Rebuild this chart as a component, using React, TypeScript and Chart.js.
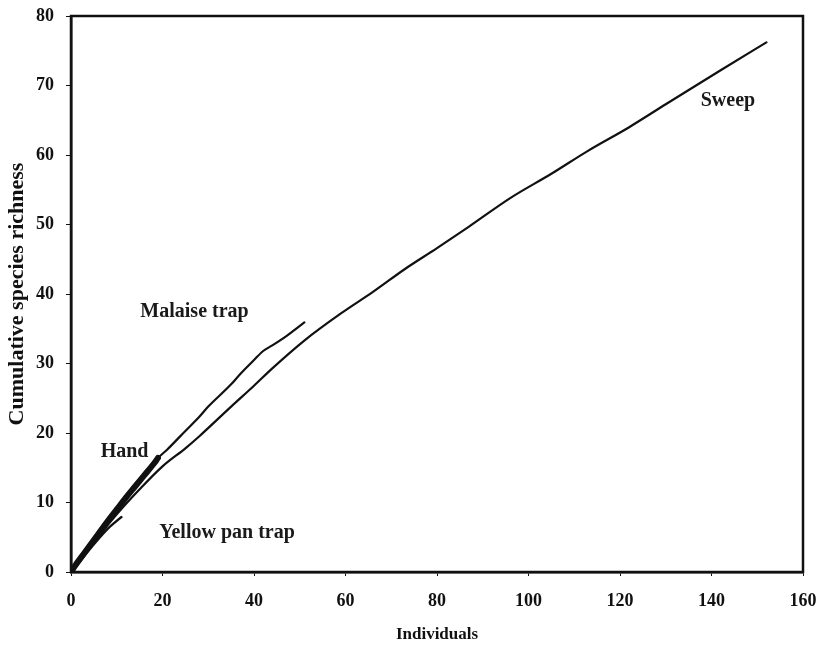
import React, { useEffect, useRef } from "react";
import { Chart, registerables } from "chart.js";

Chart.register(...registerables);

const sweepX = [0, 2, 5, 10, 15, 20, 25, 28, 35, 40, 44, 51, 59, 66, 73, 80, 87, 96, 105, 113, 122, 130, 142, 152];
const sweepY = [0, 1.8, 4.3, 8.3, 11.9, 15.2, 17.8, 19.5, 23.8, 26.8, 29.3, 33.3, 37.2, 40.3, 43.6, 46.6, 49.7, 53.8, 57.3, 60.6, 64.0, 67.3, 72.2, 76.2];

const malaiseX = [0, 2, 5, 10, 15, 19, 21, 25, 28, 30, 35, 37, 40, 42, 44, 47, 51];
const malaiseY = [0, 2, 4.6, 9.0, 13.3, 16.4, 17.6, 20.3, 22.3, 23.8, 27.0, 28.5, 30.5, 31.8, 32.6, 33.9, 35.9];

const handX = [0, 1, 3, 5, 8, 10, 12, 14, 16, 18, 19];
const handY = [0, 1, 2.8, 4.6, 7.3, 9.0, 10.7, 12.3, 13.9, 15.5, 16.4];

const panX = [0, 2, 5, 8, 11];
const panY = [0, 1.6, 4.0, 6.2, 7.9];

const xTicks = [0, 20, 40, 60, 80, 100, 120, 140, 160];
const yTicks = [0, 10, 20, 30, 40, 50, 60, 70, 80];

const labelText = ["Malaise trap", "Hand", "Yellow pan trap", "Sweep"];
const labelX = [27.0, 11.7, 34.1, 143.6];
const labelY = [36.7, 16.5, 4.9, 67.1];

const toPts = (xs: number[], ys: number[]) => xs.map((x, i) => ({ x, y: ys[i] }));

const FONT = "'Liberation Serif', 'Times New Roman', serif";

export default function App() {
  const ref = useRef<HTMLCanvasElement | null>(null);
  useEffect(() => {
    if (!ref.current) return;
    const framePlugin = {
      id: "frameAndLabels",
      afterDatasetsDraw(chart: any) {
        const { ctx, chartArea, scales } = chart;
        ctx.save();
        ctx.strokeStyle = "#111";
        ctx.lineWidth = 2.5;
        ctx.strokeRect(chartArea.left, chartArea.top, chartArea.right - chartArea.left, chartArea.bottom - chartArea.top);
        ctx.fillStyle = "#1a1a1a";
        ctx.font = `bold 20px ${FONT}`;
        ctx.textAlign = "center";
        ctx.textBaseline = "alphabetic";
        labelText.forEach((t, i) => {
          ctx.fillText(t, scales.x.getPixelForValue(labelX[i]), scales.y.getPixelForValue(labelY[i]));
        });
        ctx.restore();
      },
    };
    const line = (data: any, width: number) => ({
      data,
      showLine: true,
      borderColor: "#111",
      borderWidth: width,
      pointRadius: 0,
      cubicInterpolationMode: "monotone",
      fill: false,
      borderCapStyle: "round",
      borderJoinStyle: "round",
    });
    const zeroPad = (s: any) => {
      s.paddingTop = 0;
      s.paddingBottom = 0;
      s.paddingLeft = 0;
      s.paddingRight = 0;
    };
    const chart = new Chart(ref.current, {
      type: "scatter",
      data: {
        datasets: [
          line(toPts(sweepX, sweepY), 2.2),
          line(toPts(malaiseX, malaiseY), 2.2),
          line(toPts(panX, panY), 2.5),
          line(toPts(handX, handY), 6),
        ] as any,
      },
      options: {
        animation: false,
        responsive: false,
        layout: { padding: { left: 0, right: 22, top: 16, bottom: 0 } },
        plugins: { legend: { display: false }, tooltip: { enabled: false } },
        scales: {
          x: {
            type: "linear",
            min: 0,
            max: 160,
            afterFit: (s: any) => { s.height = 74; zeroPad(s); },
            afterBuildTicks: (s: any) => { s.ticks = xTicks.map((v) => ({ value: v })); },
            border: { display: true, color: "#111", width: 2.5 },
            grid: { display: true, drawOnChartArea: false, drawTicks: true, tickLength: 4, color: "#111", lineWidth: 1 },
            ticks: { color: "#111", padding: 15, font: { family: FONT, size: 18, weight: "bold" } },
            title: { display: true, text: "Individuals", color: "#111", padding: { top: 0, bottom: 1 }, font: { family: FONT, size: 17, weight: "bold" } },
          },
          y: {
            type: "linear",
            min: 0,
            max: 80,
            afterFit: (s: any) => { s.width = 71; zeroPad(s); },
            afterBuildTicks: (s: any) => { s.ticks = yTicks.map((v) => ({ value: v })); },
            border: { display: true, color: "#111", width: 2.5 },
            grid: { display: true, drawOnChartArea: false, drawTicks: true, tickLength: 5, color: "#111", lineWidth: 1 },
            ticks: { color: "#111", padding: 12, font: { family: FONT, size: 18, weight: "bold" } },
            title: { display: true, text: "Cumulative species richness", color: "#111", padding: { top: 4, bottom: 4 }, font: { family: FONT, size: 22, weight: "bold" } },
          },
        },
      } as any,
      plugins: [framePlugin],
    });
    return () => chart.destroy();
  }, []);
  return (
    <div style={{ position: "absolute", left: 0, top: 0, width: 825, height: 646, background: "#fff" }}>
      <canvas ref={ref} width={825} height={646} />
    </div>
  );
}
